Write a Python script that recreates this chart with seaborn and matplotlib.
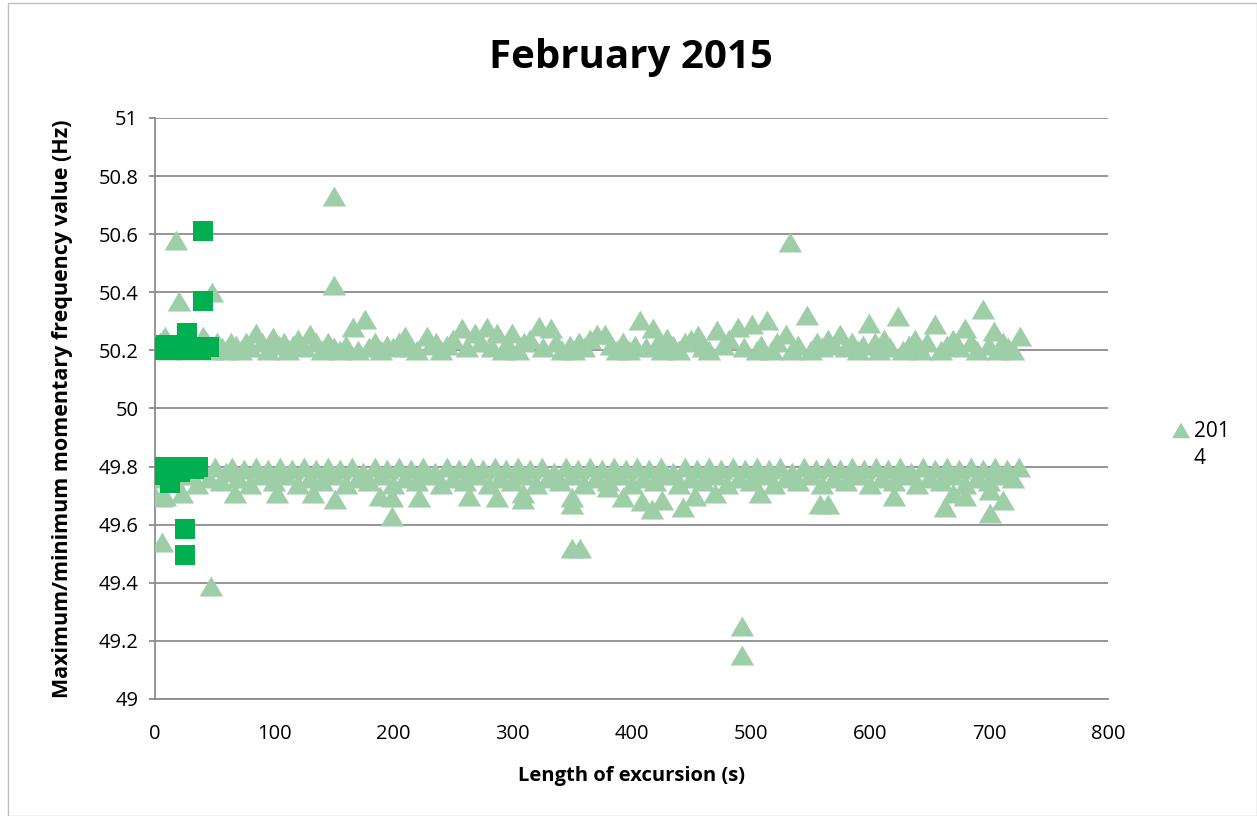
import pandas as pd
import seaborn as sns
import matplotlib.pyplot as plt
from matplotlib.lines import Line2D
from matplotlib.patches import Rectangle
from matplotlib.ticker import FuncFormatter

# 2014 series (triangles) - upper band
up_x = [0, 4, 8, 12, 16, 20, 24, 28, 32, 36, 40, 44, 48, 52, 56, 60, 64, 68, 72, 76,
        80, 85, 90, 95, 99, 104, 108, 112, 116, 120, 125, 130, 135, 140, 145, 150, 155, 160, 166, 170,
        176, 180, 185, 190, 195, 200, 205, 210, 215, 220, 228, 232, 236, 240, 245, 250, 258, 262, 269, 274,
        279, 283, 287, 292, 296, 300, 305, 310, 315, 322, 326, 332, 337, 342, 348, 352, 356, 360, 365, 371,
        378, 383, 388, 393, 398, 403, 407, 412, 418, 422, 426, 430, 435, 440, 445, 450, 456, 460, 465, 472,
        477, 482, 489, 494, 501, 505, 509, 514, 518, 522, 530, 535, 540, 547, 551, 556, 560, 565, 570, 575,
        580, 585, 590, 594, 599, 604, 608, 612, 617, 624, 628, 633, 638, 643, 648, 655, 660, 665, 670, 675,
        680, 685, 690, 695, 700, 704, 708, 712, 716, 720, 726,
        18, 20, 48, 150, 150, 533]
up_y = [50.21, 50.23, 50.25, 50.20, 50.22, 50.21, 50.23, 50.20, 50.22, 50.21, 50.25, 50.23, 50.20, 50.23, 50.21, 50.20, 50.23, 50.22, 50.20, 50.23,
        50.21, 50.26, 50.23, 50.20, 50.245, 50.22, 50.23, 50.20, 50.22, 50.24, 50.21, 50.256, 50.23, 50.20, 50.23, 50.21, 50.20, 50.22, 50.28, 50.20,
        50.308, 50.21, 50.23, 50.20, 50.22, 50.21, 50.23, 50.25, 50.21, 50.20, 50.25, 50.22, 50.23, 50.20, 50.22, 50.24, 50.277, 50.21, 50.26, 50.23,
        50.28, 50.21, 50.26, 50.20, 50.22, 50.26, 50.20, 50.23, 50.24, 50.284, 50.21, 50.277, 50.23, 50.20, 50.22, 50.20, 50.23, 50.21, 50.24, 50.256,
        50.256, 50.22, 50.20, 50.23, 50.20, 50.22, 50.305, 50.21, 50.277, 50.23, 50.20, 50.243, 50.22, 50.20, 50.23, 50.24, 50.253, 50.21, 50.20, 50.27,
        50.22, 50.24, 50.28, 50.21, 50.29, 50.20, 50.22, 50.305, 50.20, 50.23, 50.256, 50.20, 50.22, 50.322, 50.20, 50.23, 50.21, 50.24, 50.22, 50.256,
        50.21, 50.23, 50.20, 50.22, 50.294, 50.23, 50.20, 50.24, 50.21, 50.318, 50.20, 50.22, 50.24, 50.20, 50.23, 50.29, 50.20, 50.22, 50.24, 50.21,
        50.277, 50.23, 50.20, 50.342, 50.22, 50.267, 50.20, 50.23, 50.21, 50.20, 50.25,
        50.58, 50.37, 50.40, 50.73, 50.425, 50.573]

# 2014 series (triangles) - lower band
low_x = [0, 5, 10, 15, 20, 25, 30, 35, 40, 45, 50, 55, 60, 65, 70, 75, 80, 85, 90, 95,
         100, 105, 110, 115, 120, 125, 130, 135, 140, 145, 150, 155, 160, 165, 170, 175, 180, 185, 190, 195,
         200, 205, 210, 215, 220, 225, 230, 235, 240, 245, 250, 255, 260, 265, 270, 275, 280, 285, 290, 295,
         300, 305, 310, 315, 320, 325, 330, 335, 340, 345, 350, 355, 360, 365, 370, 375, 380, 385, 390, 395,
         400, 405, 410, 415, 420, 425, 430, 435, 440, 445, 450, 455, 460, 465, 470, 475, 480, 485, 490, 495,
         500, 505, 510, 515, 520, 525, 530, 535, 540, 545, 550, 555, 560, 565, 570, 575, 580, 585, 590, 595,
         600, 605, 610, 615, 620, 625, 630, 635, 640, 645, 650, 655, 660, 665, 670, 675, 680, 685, 690, 695,
         700, 705, 710, 715, 720, 725,
         0, 8, 6, 23, 67, 102, 133, 151, 189, 199, 199, 222, 264, 6, 47, 287, 309, 309, 350, 350,
         350, 357, 380, 393, 409, 417, 426, 443, 453, 470, 493, 493, 508, 558, 565, 620, 663, 670, 680, 701,
         701, 712]
low_y = [49.79, 49.76, 49.80, 49.75, 49.78, 49.77, 49.80, 49.74, 49.79, 49.76, 49.80, 49.75, 49.78, 49.80, 49.76, 49.79, 49.74, 49.80, 49.77, 49.79,
         49.75, 49.80, 49.77, 49.79, 49.74, 49.80, 49.76, 49.79, 49.75, 49.80, 49.77, 49.79, 49.74, 49.80, 49.76, 49.78, 49.75, 49.80, 49.77, 49.79,
         49.74, 49.80, 49.76, 49.79, 49.75, 49.80, 49.77, 49.78, 49.74, 49.80, 49.76, 49.79, 49.75, 49.80, 49.77, 49.79, 49.74, 49.80, 49.76, 49.79,
         49.75, 49.80, 49.77, 49.79, 49.74, 49.80, 49.76, 49.78, 49.75, 49.80, 49.77, 49.79, 49.74, 49.80, 49.76, 49.79, 49.75, 49.80, 49.77, 49.79,
         49.74, 49.80, 49.76, 49.79, 49.75, 49.80, 49.77, 49.78, 49.74, 49.80, 49.76, 49.79, 49.75, 49.80, 49.77, 49.79, 49.74, 49.80, 49.76, 49.79,
         49.75, 49.80, 49.77, 49.79, 49.74, 49.80, 49.76, 49.78, 49.75, 49.80, 49.77, 49.79, 49.74, 49.80, 49.76, 49.79, 49.75, 49.80, 49.77, 49.79,
         49.74, 49.80, 49.76, 49.79, 49.75, 49.80, 49.77, 49.78, 49.74, 49.80, 49.76, 49.79, 49.75, 49.80, 49.77, 49.79, 49.74, 49.80, 49.76, 49.79,
         49.75, 49.80, 49.77, 49.79, 49.76, 49.80,
         49.70, 49.70, 49.695, 49.71, 49.71, 49.71, 49.71, 49.69, 49.70, 49.695, 49.63, 49.695, 49.70, 49.54, 49.39, 49.695, 49.71, 49.69, 49.695, 49.67,
         49.52, 49.52, 49.73, 49.695, 49.68, 49.655, 49.685, 49.66, 49.70, 49.71, 49.25, 49.15, 49.71, 49.67, 49.67, 49.70, 49.66, 49.71, 49.70, 49.72,
         49.64, 49.685]

# 2015 series (squares)
sq_x = [0, 3, 6, 9, 12, 15, 18, 21, 24, 27, 30, 33, 36, 39, 42, 45, 40, 40,
        0, 0, 3, 6, 9, 12, 13, 15, 18, 21, 24, 27, 30, 33, 36, 25, 25]
sq_y = [50.21, 50.20, 50.21, 50.22, 50.22, 50.21, 50.20, 50.21, 50.22, 50.26, 50.21, 50.20, 50.21, 50.20, 50.21, 50.21, 50.61, 50.37,
        49.79, 49.77, 49.80, 49.79, 49.78, 49.80, 49.745, 49.79, 49.80, 49.78, 49.80, 49.79, 49.80, 49.79, 49.80, 49.585, 49.497]

LIGHT = "#9DCEA8"
DARK = "#00B050"

tri = pd.DataFrame({"x": up_x + low_x, "y": up_y + low_y})
sq = pd.DataFrame({"x": sq_x, "y": sq_y})

sns.set_style("white")
plt.rcParams["font.family"] = ["Open Sans", "DejaVu Sans"]
plt.rcParams["text.color"] = "black"

fig = plt.figure(figsize=(12.57, 8.16), dpi=100)
ax = fig.add_axes([0.1233, 0.1434, 0.7582, 0.712])

tri_marker = [(0, 0.85), (-1, -0.85), (1, -0.85)]
sns.scatterplot(data=tri, x="x", y="y", ax=ax, marker=tri_marker, s=270,
                color=LIGHT, edgecolor=LIGHT, linewidth=0.3, zorder=3, legend=False)
sns.scatterplot(data=sq, x="x", y="y", ax=ax, marker="s", s=225,
                color=DARK, edgecolor=DARK, linewidth=0, zorder=4, legend=False)

ax.set_xlim(0, 800)
ax.set_ylim(49, 51)
ax.set_xticks(range(0, 801, 100))
ax.set_yticks([49 + 0.2 * i for i in range(11)])
ax.yaxis.set_major_formatter(FuncFormatter(lambda v, p: f"{v:g}"))
ax.grid(axis="y", color="#8C8C8C", linewidth=1.3)
ax.set_axisbelow(True)
for side in ["top", "right"]:
    ax.spines[side].set_visible(False)
for side in ["left", "bottom"]:
    ax.spines[side].set_color("#8C8C8C")
    ax.spines[side].set_linewidth(1.3)
ax.tick_params(axis="x", labelsize=14.5, labelcolor="black", length=0, pad=18)
ax.tick_params(axis="y", labelsize=14.5, labelcolor="black", color="#8C8C8C",
               width=1.3, length=4, pad=8, left=True)

ax.set_xlabel("Length of excursion (s)", fontsize=14.5, fontweight="bold",
              labelpad=16, color="black")
ax.set_ylabel("Maximum/minimum momentary frequency value (Hz)", fontsize=15.5,
              fontweight="bold", labelpad=18, color="black")
fig.text(0.502, 0.93, "February 2015", ha="center", va="center",
         fontsize=29, fontweight="bold", color="black")

# legend: only the 2014 series, label wrapped onto two lines
handle = Line2D([], [], linestyle="none", marker=tri_marker, markersize=12,
                color=LIGHT)
leg = ax.legend([handle], ["201"], loc="center left", bbox_to_anchor=(1.0605, 0.46),
                frameon=False, fontsize=15, handlelength=0.7, handletextpad=0.25,
                borderaxespad=0)
for t in leg.get_texts():
    t.set_color("black")
fig.text(1193 / 1257, 1 - 459 / 816, "4", ha="left", va="center", fontsize=15,
         color="black")

fig.patches.append(Rectangle((0.006, 0.0), 0.994, 0.996, transform=fig.transFigure,
                             fill=False, edgecolor="#BFBFBF", linewidth=1))

fig.savefig("out.png", dpi=100)
